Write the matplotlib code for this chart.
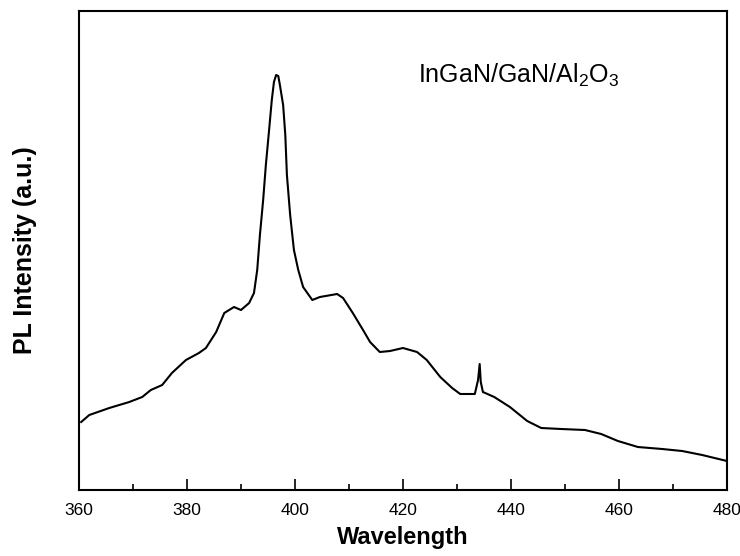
import matplotlib.pyplot as plt
from matplotlib.ticker import MultipleLocator

plt.rcParams['font.family'] = ['Liberation Sans', 'DejaVu Sans']
plt.rcParams['mathtext.default'] = 'regular'

# PL spectrum (intensity in arbitrary units)
wavelength = [360.4, 361.9, 365.6, 369.3, 371.7, 373.3, 375.4, 377.2, 379.8, 382.2,
              383.5, 385.4, 386.9, 388.7, 390.0, 391.5, 392.4, 393.0, 393.5, 394.1,
              394.6, 395.2, 395.7, 396.1, 396.5, 396.9, 397.2, 397.8, 398.2, 398.5,
              399.1, 399.8, 400.6, 401.5, 403.2, 404.6, 407.8, 408.9, 410.7, 412.6,
              413.9, 415.7, 417.6, 420.0, 422.6, 424.4, 426.9, 429.1, 430.6, 433.3,
              433.9, 434.2, 434.4, 434.8, 436.9, 439.8, 443.0, 445.6, 449.3, 453.7,
              456.7, 459.8, 463.5, 468.0, 471.7, 475.4, 480.0]
intensity = [68, 75, 82, 88, 93, 100, 105, 117, 130, 137,
             142, 158, 177, 183, 180, 187, 197, 220, 255, 290,
             325, 360, 390, 408, 415, 414, 405, 385, 355, 315,
             275, 240, 220, 203, 190, 193, 196, 192, 177, 160,
             148, 138, 139, 142, 138, 130, 113, 102, 96, 96,
             110, 126, 108, 98, 93, 83, 69, 62, 61, 60,
             56, 49, 43, 41, 39, 35, 29]

xticks = [360, 380, 400, 420, 440, 460, 480]

fig = plt.figure(figsize=(7.4, 5.56), dpi=100)
ax = fig.add_axes([0.1068, 0.1187, 0.8756, 0.8615])

ax.plot(wavelength, intensity, color='black', lw=1.5)

ax.set_xlim(360, 480)
ax.set_ylim(0, 479)
ax.set_xticks(xticks)
ax.xaxis.set_minor_locator(MultipleLocator(10))
ax.set_yticks([])
ax.tick_params(axis='x', which='major', direction='in', length=8, width=1.2,
               labelsize=12.5, pad=9)
ax.tick_params(axis='x', which='minor', direction='in', length=4, width=1.2)
for s in ax.spines.values():
    s.set_linewidth(1.5)

ax.set_xlabel('Wavelength', fontsize=17, fontweight='bold', labelpad=6)
ax.set_ylabel('PL Intensity (a.u.)', fontsize=18, fontweight='bold', labelpad=30)

ax.text(0.523, 0.866, r'InGaN/GaN/Al$_2$O$_3$', transform=ax.transAxes,
        fontsize=18, ha='left', va='center')

fig.savefig('out.png', dpi=100)
